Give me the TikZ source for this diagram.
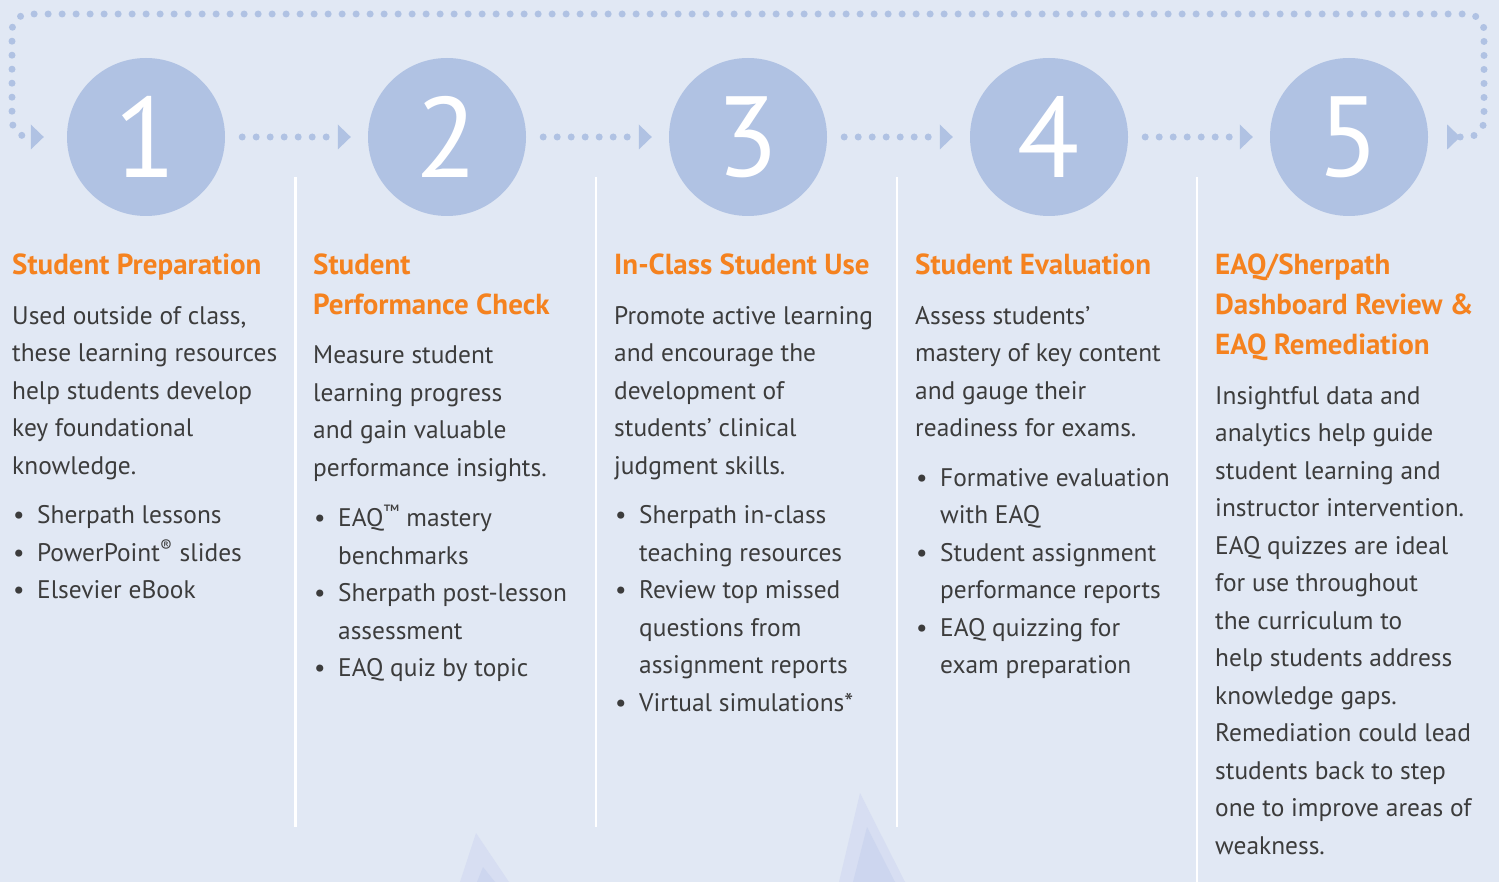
\documentclass[tikz,border=0pt]{standalone}
\usepackage{fontspec}
\setmainfont{PT Sans}
\usetikzlibrary{arrows.meta,positioning}
\definecolor{bgblue}{HTML}{E1E8F4}
\definecolor{stepblue}{HTML}{B0C2E3}
\definecolor{headorange}{HTML}{F5821F}
\definecolor{bodygray}{HTML}{3C3C3C}
\definecolor{peakout}{HTML}{D7DEF2}
\definecolor{peakin}{HTML}{CDD6EF}
\newcommand{\bl}{\makebox[25pt][l]{\kern1pt\textbullet}}
\newcommand{\cl}{\hspace*{25pt}}

\begin{document}
\begin{tikzpicture}
  [x=1pt,y=-1pt,every node/.style={inner sep=0pt},
   num/.style={circle,fill=stepblue,text=white,minimum size=158pt,font=\fontsize{114}{114}\selectfont},
   dots/.style={draw=stepblue,line width=7pt,line cap=round,dash pattern=on 0pt off 14pt},
   >={Triangle[length=13pt,width=25pt,line width=0pt]},
   head/.style={anchor=north west,align=left,text=headorange,font=\bfseries\fontsize{29}{40}\selectfont},
   body/.style={anchor=north west,align=left,text=bodygray,font=\fontsize{25.4}{37.5}\selectfont},
   divider/.style={draw=white,line width=2.5pt}]
  \fill[bgblue] (0,0) rectangle (1499,882);
  \useasboundingbox (0,0) rectangle (1499,882);
  \fill[peakout] (460,882) -- (476,833) -- (509,882) -- cycle;
  \fill[peakin] (477,882) -- (483,867) -- (495,882) -- cycle;
  \fill[peakout] (839,882) -- (860,793) -- (905,882) -- cycle;
  \fill[peakin] (853,882) -- (867,827) -- (895,882) -- cycle;
  \foreach \x/\y in {295.5/827,596/827,897/827,1197/882}
    \draw[divider] (\x,177) -- (\x,\y);
  \node[num] (c1) at (146,137) {1};
  \node[num] (c2) at (447,137) {2};
  \node[num] (c3) at (748,137) {3};
  \node[num] (c4) at (1049,137) {4};
  \node[num] (c5) at (1349,137) {5};
  \foreach \from/\to in {c1/c2,c2/c3,c3/c4,c4/c5}
    \draw[dots,->] ([xshift=17pt]\from.east) -- ([xshift=-17pt]\to.west);
  \draw[dots,>->,rounded corners=17pt] ([xshift=19pt]c5.east) -| (1484,14) -| (12,137) -- ([xshift=-23pt]c1.west);
  \node[head] (h1) at (12,254) {Student Preparation};
  \node[head] (h2) at (313,254) {Student\\Performance Check};
  \node[head] (h3) at (614,254) {In-Class Student Use};
  \node[head] (h4) at (915,254) {Student Evaluation};
  \node[head] (h5) at (1215,254) {EAQ/Sherpath\\Dashboard Review \&\\EAQ Remediation};
  \node[body] (b1) at (12,306) {Used outside of class,\\these learning resources\\help students develop\\key foundational\\knowledge.\\[12pt]
    \bl Sherpath lessons\\\bl PowerPoint\textsuperscript{®} slides\\\bl Elsevier eBook};
  \node[body] (b2) at (313,346) {Measure student\\learning progress\\and gain valuable\\performance insights.\\[13pt]
    \bl EAQ\textsuperscript{™} mastery\\\cl benchmarks\\\bl Sherpath post-lesson\\\cl assessment\\\bl EAQ quiz by topic};
  \node[body] (b3) at (614,306) {Promote active learning\\and encourage the\\development of\\students’ clinical\\judgment skills.\\[12pt]
    \bl Sherpath in-class\\\cl teaching resources\\\bl Review top missed\\\cl questions from\\\cl assignment reports\\\bl Virtual simulations*};
  \node[body] (b4) at (915,306) {Assess students’\\mastery of key content\\and gauge their\\readiness for exams.\\[12pt]
    \bl Formative evaluation\\\cl with EAQ\\\bl Student assignment\\\cl performance reports\\\bl EAQ quizzing for\\\cl exam preparation};
  \node[body] (b5) at (1215,386) {Insightful data and\\analytics help guide\\student learning and\\instructor intervention.\\EAQ quizzes are ideal\\for use throughout\\the curriculum to\\help students address\\knowledge gaps.\\Remediation could lead\\students back to step\\one to improve areas of\\weakness.};
\end{tikzpicture}
\end{document}
